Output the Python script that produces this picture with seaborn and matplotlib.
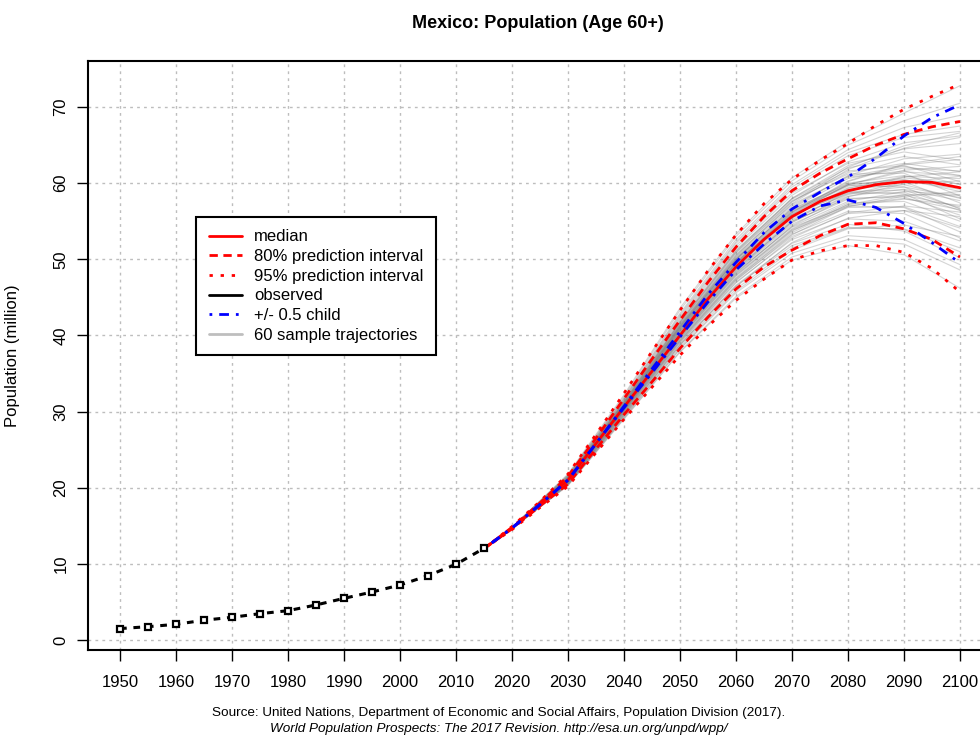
import numpy as np
import pandas as pd
import matplotlib
matplotlib.use("Agg")
import matplotlib.pyplot as plt
from matplotlib.lines import Line2D
import seaborn as sns

# ---------------- data ----------------
obs_years = [1950, 1955, 1960, 1965, 1970, 1975, 1980, 1985, 1990, 1995, 2000, 2005, 2010, 2015]
obs_pop = [1.50, 1.75, 2.06, 2.60, 2.98, 3.46, 3.85, 4.60, 5.47, 6.30, 7.22, 8.45, 9.94, 12.04]

proj_years = [2015, 2020, 2025, 2030, 2035, 2040, 2045, 2050, 2055, 2060,
              2065, 2070, 2075, 2080, 2085, 2090, 2095, 2100]
median = [12.0, 14.7, 17.8, 21.0, 25.8, 30.6, 35.3, 40.0, 44.8, 49.0,
          52.6, 55.6, 57.6, 59.0, 59.8, 60.2, 60.1, 59.4]
pi80_hi = [12.0, 14.8, 18.0, 21.5, 26.5, 31.7, 36.9, 42.0, 47.0, 51.6,
           55.6, 59.0, 61.3, 63.2, 65.0, 66.4, 67.4, 68.1]
pi80_lo = [12.0, 14.6, 17.6, 20.5, 25.1, 29.6, 33.9, 38.3, 42.4, 46.1,
           49.0, 51.2, 53.1, 54.6, 54.8, 54.0, 52.6, 50.3]
pi95_hi = [12.0, 14.9, 18.2, 21.8, 27.0, 32.4, 37.9, 43.3, 48.5, 53.2,
           57.3, 60.5, 63.0, 65.2, 67.6, 69.7, 71.4, 73.0]
pi95_lo = [12.0, 14.5, 17.4, 20.2, 24.6, 29.0, 33.2, 37.4, 41.2, 44.6,
           47.4, 49.9, 51.1, 51.8, 51.8, 50.9, 48.8, 45.7]
child_hi = [12.0, 14.7, 17.8, 21.0, 25.8, 30.7, 35.6, 40.5, 45.4, 49.6,
            53.5, 56.6, 58.8, 60.8, 63.3, 66.2, 68.6, 70.3]
child_lo = [12.0, 14.7, 17.8, 21.0, 25.8, 30.5, 35.1, 39.8, 44.4, 48.6,
            52.0, 55.0, 57.0, 57.8, 56.8, 54.7, 52.2, 49.5]

traj_years = [2015, 2020, 2030, 2040, 2050, 2060, 2070, 2080, 2090, 2100]
trajectories = [
    [12.0, 14.7, 21.0, 30.6, 40.8, 49.5, 56.0, 59.8, 61.5, 61.0],
    [12.0, 14.7, 20.8, 30.1, 39.6, 47.8, 53.9, 57.2, 58.0, 56.5],
    [12.0, 14.7, 21.3, 31.2, 41.7, 51.0, 58.0, 62.3, 64.5, 65.2],
    [12.0, 14.6, 20.6, 29.6, 38.8, 46.5, 51.8, 54.2, 53.9, 51.0],
    [12.0, 14.7, 21.1, 30.8, 41.0, 50.0, 56.8, 61.0, 63.2, 63.8],
    [12.0, 14.7, 20.9, 30.3, 40.0, 48.4, 54.6, 57.9, 58.4, 56.9],
    [12.0, 14.8, 21.5, 31.6, 42.5, 52.1, 59.2, 63.6, 66.0, 66.8],
    [12.0, 14.6, 20.7, 30.0, 39.3, 47.3, 53.0, 56.0, 56.4, 54.1],
    [12.0, 14.7, 21.2, 30.9, 41.2, 50.1, 56.5, 60.0, 61.0, 59.4],
    [12.0, 14.6, 20.4, 29.3, 38.2, 45.6, 50.8, 53.1, 52.6, 49.3],
    [12.0, 14.7, 21.0, 30.5, 40.5, 49.2, 55.6, 59.3, 60.9, 60.6],
    [12.0, 14.8, 21.4, 31.3, 41.9, 51.2, 58.0, 62.0, 63.5, 62.4],
    [12.0, 14.7, 20.8, 30.2, 39.9, 48.2, 54.3, 57.6, 58.9, 58.5],
    [12.0, 14.7, 21.1, 30.7, 40.9, 49.7, 55.9, 59.2, 59.8, 58.0],
    [12.0, 14.6, 20.5, 29.5, 38.7, 46.4, 52.2, 55.4, 56.4, 55.6],
    [12.0, 14.8, 21.6, 31.8, 42.9, 52.6, 59.8, 64.4, 67.3, 68.9],
    [12.0, 14.7, 20.9, 30.4, 40.2, 48.8, 55.0, 58.0, 58.2, 55.8],
    [12.0, 14.7, 21.2, 31.0, 41.3, 50.4, 57.3, 61.8, 64.6, 66.0],
    [12.0, 14.6, 20.6, 29.8, 39.1, 47.0, 52.6, 55.3, 55.0, 52.4],
    [12.0, 14.7, 21.0, 30.6, 40.6, 49.4, 55.8, 59.4, 60.4, 59.2],
    [12.0, 14.7, 21.3, 31.1, 41.5, 50.6, 57.2, 60.8, 61.6, 59.8],
    [12.0, 14.6, 20.7, 29.9, 39.4, 47.6, 53.7, 57.2, 58.5, 58.4],
    [12.0, 14.7, 21.1, 30.8, 41.1, 49.9, 56.3, 59.8, 60.5, 58.9],
    [12.0, 14.6, 20.3, 29.1, 37.9, 45.1, 50.3, 52.6, 52.0, 48.6],
    [12.0, 14.8, 21.7, 32.0, 43.3, 53.0, 60.3, 65.0, 68.2, 70.5],
    [12.0, 14.7, 21.0, 30.4, 40.3, 48.9, 55.2, 58.7, 59.5, 58.1],
    [12.0, 14.7, 20.9, 30.3, 40.1, 48.6, 55.0, 58.9, 60.8, 61.5],
    [12.0, 14.7, 21.2, 31.0, 41.4, 50.2, 56.6, 59.9, 60.2, 57.4],
    [12.0, 14.6, 20.6, 29.7, 39.0, 46.9, 52.8, 56.1, 57.0, 56.2],
    [12.0, 14.8, 21.4, 31.4, 42.1, 51.5, 58.4, 62.8, 65.3, 66.2],
    [12.0, 14.7, 20.8, 30.1, 39.7, 47.9, 53.8, 56.8, 56.9, 54.3],
    [12.0, 14.7, 21.1, 30.7, 40.8, 49.6, 56.1, 60.2, 62.4, 63.1],
    [12.0, 14.6, 20.5, 29.4, 38.5, 46.1, 51.5, 54.1, 54.0, 51.5],
    [12.0, 14.7, 21.3, 31.2, 41.6, 50.8, 57.6, 61.4, 62.6, 61.5],
    [12.0, 14.7, 21.0, 30.5, 40.4, 49.1, 55.4, 58.6, 58.8, 56.4],
    [12.0, 14.7, 20.9, 30.2, 39.8, 48.1, 54.4, 58.2, 59.9, 60.3],
    [12.0, 14.8, 21.5, 31.5, 42.3, 51.8, 58.7, 62.6, 64.1, 63.0],
    [12.0, 14.6, 20.7, 30.0, 39.5, 47.5, 53.3, 56.3, 56.0, 52.8],
    [12.0, 14.7, 21.2, 30.9, 41.1, 50.0, 56.7, 60.6, 62.0, 61.6],
    [12.0, 14.6, 20.4, 29.2, 38.3, 45.8, 51.2, 54.0, 54.5, 53.0],
    [12.0, 14.7, 21.0, 30.6, 40.7, 49.4, 55.7, 58.9, 59.1, 56.7],
    [12.0, 14.7, 21.3, 31.1, 41.4, 50.5, 57.5, 62.1, 64.9, 66.6],
    [12.0, 14.7, 20.8, 30.2, 39.9, 48.3, 54.2, 57.0, 56.8, 53.6],
    [12.0, 14.7, 21.1, 30.8, 41.0, 49.8, 56.2, 59.6, 60.7, 59.9],
    [12.0, 14.6, 20.6, 29.7, 39.2, 47.2, 53.2, 56.9, 58.3, 58.9],
    [12.0, 14.8, 21.6, 31.7, 42.7, 52.3, 59.5, 64.0, 66.4, 67.5],
    [12.0, 14.7, 20.9, 30.4, 40.2, 48.7, 54.9, 58.3, 59.2, 57.7],
    [12.0, 14.7, 21.2, 31.0, 41.2, 50.3, 57.0, 60.9, 62.2, 61.0],
    [12.0, 14.6, 20.5, 29.5, 38.8, 46.6, 52.1, 54.6, 53.7, 50.2],
    [12.0, 14.7, 21.0, 30.5, 40.5, 49.3, 55.9, 59.8, 61.7, 62.2],
    [12.0, 14.8, 21.4, 31.3, 41.8, 51.1, 57.9, 61.6, 62.3, 60.2],
    [12.0, 14.6, 20.7, 29.9, 39.3, 47.4, 53.5, 57.0, 57.9, 57.1],
    [12.0, 14.7, 21.1, 30.7, 40.9, 49.6, 55.8, 58.8, 58.6, 55.3],
    [12.0, 14.6, 20.3, 29.0, 37.8, 44.9, 49.9, 51.8, 50.6, 46.2],
    [12.0, 14.8, 21.8, 32.2, 43.6, 53.3, 60.7, 65.5, 69.2, 72.8],
    [12.0, 14.7, 21.0, 30.6, 40.6, 49.5, 56.2, 60.3, 62.5, 63.5],
    [12.0, 14.7, 20.8, 30.1, 39.7, 48.0, 54.0, 57.4, 57.6, 55.0],
    [12.0, 14.7, 21.3, 31.2, 41.7, 50.9, 57.7, 61.2, 61.3, 58.3],
    [12.0, 14.7, 20.9, 30.3, 40.0, 48.5, 54.8, 58.5, 60.1, 60.9],
    [12.0, 14.7, 21.2, 30.9, 41.2, 50.0, 56.4, 59.7, 59.5, 56.6],
]

x_ticks = list(range(1950, 2101, 10))
y_ticks = list(range(0, 71, 10))
title = "Mexico: Population (Age 60+)"
ylabel = "Population (million)"
legend_labels = ["median", "80% prediction interval", "95% prediction interval",
                 "observed", "+/- 0.5 child", "60 sample trajectories"]
source1 = "Source: United Nations, Department of Economic and Social Affairs, Population Division (2017)."
source2 = "World Population Prospects: The 2017 Revision. http://esa.un.org/unpd/wpp/"

# ---------------- style ----------------
sns.set_style("white")
plt.rcParams["font.family"] = ["Liberation Sans", "DejaVu Sans"]
plt.rcParams["text.color"] = "black"
plt.rcParams["axes.labelcolor"] = "black"
plt.rcParams["xtick.color"] = "black"
plt.rcParams["ytick.color"] = "black"

W, H = 980, 736
fig = plt.figure(figsize=(W / 100, H / 100), dpi=100)
left, right, top, bottom = 88, 986, 61, 650
ax = fig.add_axes([left / W, 1 - bottom / H, (right - left) / W, (bottom - top) / H])

px_per_yr = (960 - 120) / 150.0
ax.set_xlim(1950 - (120 - left) / px_per_yr, 2100 + (right - 960) / px_per_yr)
px_per_unit = (640 - 107) / 70.0
ax.set_ylim(0 - (bottom - 640) / px_per_unit, 70 + (107 - top) / px_per_unit)

# grid
for xv in x_ticks:
    ax.axvline(xv, color="#BDBDBD", lw=1.0, linestyle=(0, (2, 3)), zorder=0)
for yv in y_ticks:
    ax.axhline(yv, color="#BDBDBD", lw=1.0, linestyle=(0, (2, 3)), zorder=0)

# sample trajectories
rows = []
for i, tr in enumerate(trajectories):
    for yr, v in zip(traj_years, tr):
        rows.append({"traj": i, "year": yr, "pop": v})
df_traj = pd.DataFrame(rows)
sns.lineplot(data=df_traj, x="year", y="pop", units="traj", estimator=None,
             color="#7F7F7F", alpha=0.33, lw=0.8, ax=ax, legend=False, zorder=2)

# observed
sns.lineplot(x=obs_years, y=obs_pop, color="black", lw=2.2,
             linestyle=(0, (2.2, 2.2)), marker="s", markersize=5,
             markerfacecolor="white", markeredgecolor="black", markeredgewidth=1.6,
             ax=ax, zorder=5)

LW = 2.0
sns.lineplot(x=proj_years, y=median, color="red", lw=LW, ax=ax, zorder=4)
sns.lineplot(x=proj_years, y=pi80_hi, color="red", lw=LW, linestyle=(0, (3, 2)), ax=ax, zorder=4)
sns.lineplot(x=proj_years, y=pi80_lo, color="red", lw=LW, linestyle=(0, (3, 2)), ax=ax, zorder=4)
sns.lineplot(x=proj_years, y=pi95_hi, color="red", lw=LW, linestyle=(0, (1.2, 2.8)), ax=ax, zorder=4)
sns.lineplot(x=proj_years, y=pi95_lo, color="red", lw=LW, linestyle=(0, (1.2, 2.8)), ax=ax, zorder=4)
sns.lineplot(x=proj_years, y=child_hi, color="blue", lw=LW, linestyle=(0, (1, 2.5, 3.5, 2.5)), ax=ax, zorder=4.5)
sns.lineplot(x=proj_years, y=child_lo, color="blue", lw=LW, linestyle=(0, (1, 2.5, 3.5, 2.5)), ax=ax, zorder=4.5)

# axes styling
ax.set_xticks(x_ticks)
ax.set_yticks(y_ticks)
ax.set_xticklabels([str(t) for t in x_ticks], fontsize=12, color="black")
ax.set_yticklabels([str(t) for t in y_ticks], fontsize=12, rotation=90, va="center", color="black")
ax.tick_params(axis="x", direction="out", length=8, width=1.0, pad=10, color="black", bottom=True)
ax.tick_params(axis="y", direction="out", length=8, width=1.0, pad=6, color="black", left=True)
for sp in ax.spines.values():
    sp.set_color("black")
    sp.set_linewidth(1.5)
ax.set_xlabel("")
ax.set_ylabel(ylabel, fontsize=12, color="black")
ax.yaxis.set_label_coords(-(88 - 20) / (right - left), 0.5)

fig.text((left + 988) / 2 / W, 1 - 23 / H, title, ha="center", va="center",
         fontsize=13, fontweight="bold", color="black")
fig.text(499 / W, 1 - 713 / H, source1, ha="center", va="center", fontsize=9.7, color="black")
fig.text(499 / W, 1 - 729 / H, source2, ha="center", va="center", fontsize=9.7,
         style="italic", color="black")

# legend
handles = [
    Line2D([], [], color="red", lw=LW),
    Line2D([], [], color="red", lw=LW, linestyle=(0, (3, 2))),
    Line2D([], [], color="red", lw=LW, linestyle=(0, (1.2, 2.8))),
    Line2D([], [], color="black", lw=LW),
    Line2D([], [], color="blue", lw=LW, linestyle=(0, (1, 2.5, 3.5, 2.5))),
    Line2D([], [], color="#BEBEBE", lw=LW),
]
leg = ax.legend(handles, legend_labels, loc="upper left",
                bbox_to_anchor=((196 - left) / (right - left), (bottom - 217) / (bottom - top)),
                fontsize=12, frameon=True, fancybox=False, framealpha=1,
                edgecolor="black", handlelength=2.0, handletextpad=0.75,
                labelspacing=0.28, borderpad=0.75, borderaxespad=0)
leg.get_frame().set_linewidth(1.5)
leg.set_zorder(10)
for t in leg.get_texts():
    t.set_color("black")

fig.savefig("out.png", dpi=100)
